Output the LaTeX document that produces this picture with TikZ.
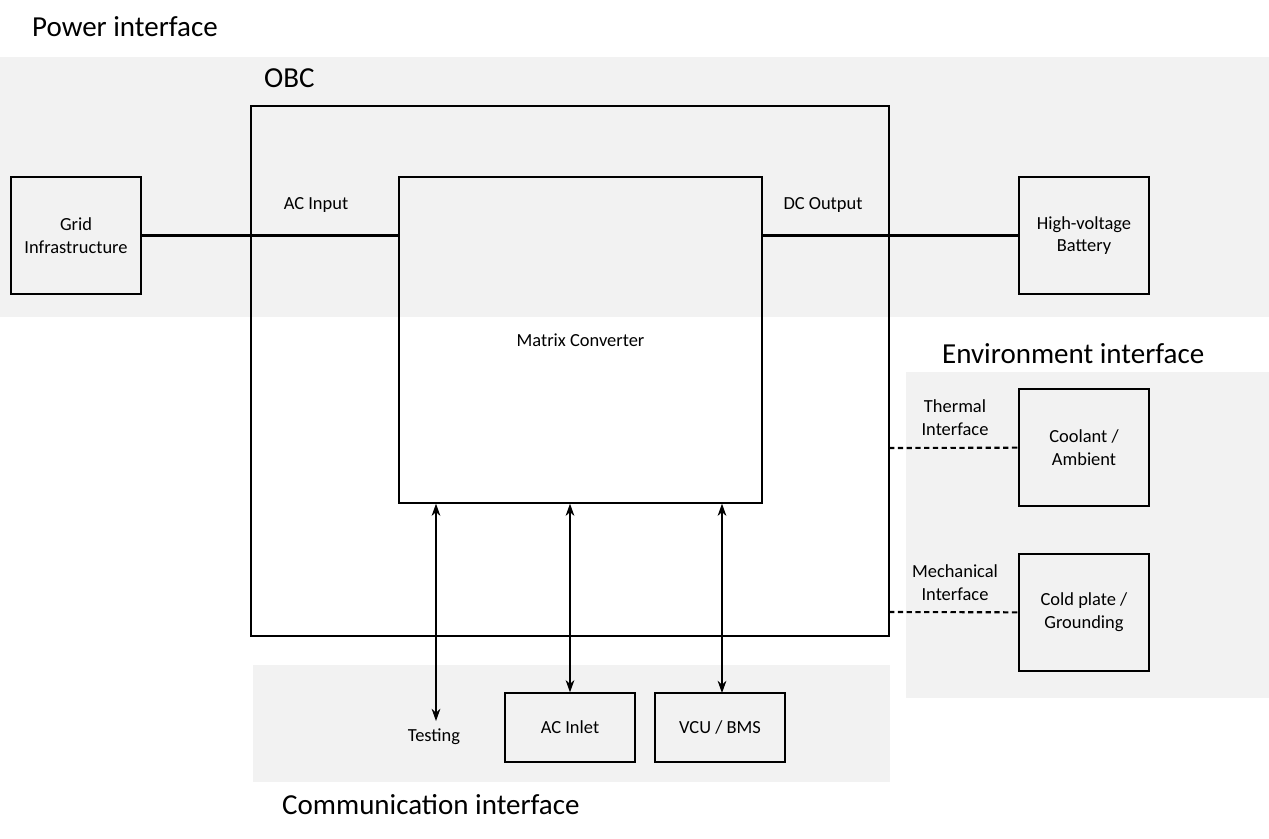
\documentclass[tikz,border=0pt]{standalone}
\usepackage{fontspec}
\setmainfont{Carlito}
\usetikzlibrary{arrows.meta}
\begin{document}
\begin{tikzpicture}[x=0.02cm,y=-0.02cm]
\tikzset{
  area/.style={fill=black!5,draw=none},
  blk/.style={draw,thick,fill=none},
  title/.style={anchor=west,font=\fontsize{16.5}{19}\selectfont},
  lbl/.style={font=\fontsize{10.5}{13}\selectfont,align=center},
  dashlink/.style={very thick,dash pattern=on 3pt off 2pt},
  link/.style={<->,>={Stealth[length=7pt,width=5pt]},semithick}
}
\useasboundingbox (0,0) rectangle (1269,839);
% interface areas
\fill[area] (0,57) rectangle (1269,317);
\fill[area] (906,372) rectangle (1269,698);
\fill[area] (253,665) rectangle (890,782);
\node[title] (pwr) at (26,27) {Power interface};
\node[title] (env) at (936,354) {Environment interface};
\node[title] (com) at (276,805) {Communication interface};
\node[title] (obct) at (258,78) {OBC};
% boxes
\draw[line width=1.2pt] (251,106) rectangle (889,636);
\node[blk,lbl,minimum width=363*0.02cm,minimum height=326*0.02cm] (mc) at (580.5,340) {Matrix Converter};
\node[blk,lbl,minimum width=130*0.02cm,minimum height=117*0.02cm] (grid) at (76,235.5) {Grid\\Infrastructure};
\node[blk,lbl,minimum width=130*0.02cm,minimum height=117*0.02cm] (bat) at (1084,235.5) {High-voltage\\Battery};
\node[blk,lbl,minimum width=130*0.02cm,minimum height=117*0.02cm] (cool) at (1084,447.5) {Coolant /\\Ambient};
\node[blk,lbl,minimum width=130*0.02cm,minimum height=117*0.02cm] (cold) at (1084,612.5) {Cold plate /\\Grounding};
\node[blk,lbl,minimum width=130*0.02cm,minimum height=69*0.02cm] (inlet) at (570,727.5) {AC Inlet};
\node[blk,lbl,minimum width=130*0.02cm,minimum height=69*0.02cm] (vcu) at (720,727.5) {VCU / BMS};
\node[lbl] (test) at (434,737) {Testing};
\coordinate (tst) at (436,721);
\coordinate (vtop) at (722,693);
% labels
\node[lbl] (acin) at (316,205) {AC Input};
\node[lbl] (dcout) at (823,205) {DC Output};
\node[lbl] (therm) at (955,418) {Thermal\\Interface};
\node[lbl] (mech) at (955,583) {Mechanical\\Interface};
\coordinate (tl) at (889,448);
\coordinate (ml) at (889,612);
% connectors
\draw[line width=1.5pt] (grid) -- (grid -| mc.west);
\draw[line width=1.5pt] (bat) -- (bat -| mc.east);
\draw[dashlink] (tl) -- (cool);
\draw[dashlink] (ml) -- (cold);
\draw[link] (mc.south -| tst) -- (tst);
\draw[link] (mc.south -| inlet) -- (inlet);
\draw[link] (mc.south -| vtop) -- (vtop);
\end{tikzpicture}
\end{document}
